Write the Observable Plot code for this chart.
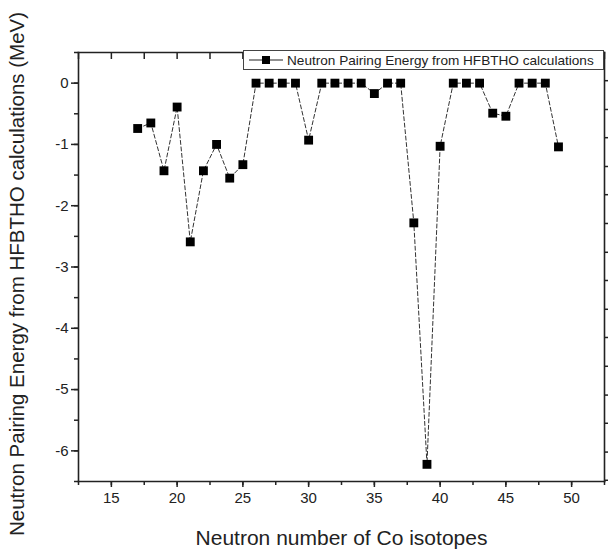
<!DOCTYPE html>
<html>
<head>
<meta charset="utf-8">
<script src="https://cdn.jsdelivr.net/npm/d3@7"></script>
<script src="https://cdn.jsdelivr.net/npm/@observablehq/plot@0.6"></script>
<style>
  html, body { margin: 0; padding: 0; background: #fff; }
  #wrap { position: relative; width: 608px; height: 554px; font-family: "Liberation Sans", Arial, sans-serif; }
  #legend { position: absolute; left: 243px; top: 50px; width: 359px; height: 18px; border: 1px solid #444; background: #fff;
            font-size: 13.6px; color: #222; display: flex; align-items: center; box-sizing: content-box; white-space: nowrap; }
  #legend svg { margin-left: 5px; margin-right: 4px; }
</style>
</head>
<body>
<div id="wrap"></div>
<script>
const neutronNumber = [17,18,19,20,21,22,23,24,25,26,27,28,29,30,31,32,33,34,35,36,37,38,39,40,41,42,43,44,45,46,47,48,49];
const pairingEnergy = [-0.74,-0.65,-1.43,-0.39,-2.59,-1.43,-1.0,-1.55,-1.33,0,0,0,0,-0.93,0,0,0,0,-0.17,0,0,-2.28,-6.22,-1.03,0,0,0,-0.49,-0.54,0,0,0,-1.04];
const xTickLabels = [15,20,25,30,35,40,45,50];
const yTickLabels = [0,-1,-2,-3,-4,-5,-6];
const xMinorTicks = [12.5,15,17.5,20,22.5,25,27.5,30,32.5,35,37.5,40,42.5,45,47.5,50,52.5];
const yMinorTicks = [0.5,0,-0.5,-1,-1.5,-2,-2.5,-3,-3.5,-4,-4.5,-5,-5.5,-6,-6.5];
const rightTicks = [0.04,-0.43,-0.89,-1.36,-1.82,-2.29,-2.76,-3.22,-3.69,-4.15,-4.62,-5.09,-5.55,-6.02,-6.48];
const seriesName = "Neutron Pairing Energy from HFBTHO calculations";
const xTitle = "Neutron number of Co isotopes";
const yTitle = "Neutron Pairing Energy from HFBTHO calculations (MeV)";

const data = neutronNumber.map((n, i) => ({n, e: pairingEnergy[i]}));
const fmt = d => String(d);
const blank = () => "";

const chart = Plot.plot({
  width: 608,
  height: 554,
  marginLeft: 78,
  marginRight: 4,
  marginTop: 52,
  marginBottom: 73,
  style: {fontFamily: "Liberation Sans, Arial, sans-serif", color: "#222", background: "#fff"},
  x: {domain: [12.5, 52.5]},
  y: {domain: [-6.5, 0.5]},
  marks: [
    Plot.frame({anchor: "left", stroke: "#222", strokeWidth: 1.6}),
    Plot.frame({anchor: "bottom", stroke: "#222", strokeWidth: 1.6}),
    Plot.frame({anchor: "top", stroke: "#222", strokeWidth: 1.6}),
    Plot.frame({anchor: "right", stroke: "#222", strokeWidth: 1.6}),
    // bottom axis
    Plot.axisX({ticks: xMinorTicks, tickSize: 4, tickFormat: blank, label: null, strokeWidth: 1.5}),
    Plot.axisX({ticks: xTickLabels, tickSize: 6, tickPadding: 5, fontSize: 15, tickFormat: fmt, label: null, strokeWidth: 1.5}),
    Plot.text([xTitle], {frameAnchor: "bottom", dy: 63, fontSize: 21, fill: "#222"}),
    // top axis (inward ticks)
    Plot.axisX({anchor: "top", ticks: xMinorTicks, tickSize: 6, dy: 6, tickFormat: blank, label: null, strokeWidth: 1.5}),
    // left axis
    Plot.axisY({ticks: yMinorTicks, tickSize: 4, tickFormat: blank, label: null, strokeWidth: 1.5}),
    Plot.axisY({ticks: yTickLabels, tickSize: 7, tickPadding: 3, fontSize: 15, tickFormat: fmt, label: null, strokeWidth: 1.5}),
    Plot.text([yTitle], {frameAnchor: "left", textAnchor: "middle", dx: -61, dy: 7, rotate: -90, fontSize: 20.5, fill: "#222"}),
    // right axis ticks
    Plot.axisY({anchor: "right", ticks: rightTicks, tickSize: 4, tickFormat: blank, label: null, strokeWidth: 1.5}),
    Plot.line(data, {x: "n", y: "e", stroke: "#333", strokeWidth: 1, strokeDasharray: "4,2.5"}),
    Plot.dot(data, {x: "n", y: "e", symbol: "square", r: 5, fill: "#000", stroke: "none"})
  ]
});

const wrap = document.getElementById("wrap");
wrap.appendChild(chart);

const legend = document.createElement("div");
legend.id = "legend";
legend.innerHTML = `<svg width="34" height="12"><line x1="0" y1="6" x2="34" y2="6" stroke="#222" stroke-width="1.2"/><rect x="13" y="2" width="8" height="8" fill="#000"/></svg><span>${seriesName}</span>`;
wrap.appendChild(legend);
</script>
</body>
</html>
